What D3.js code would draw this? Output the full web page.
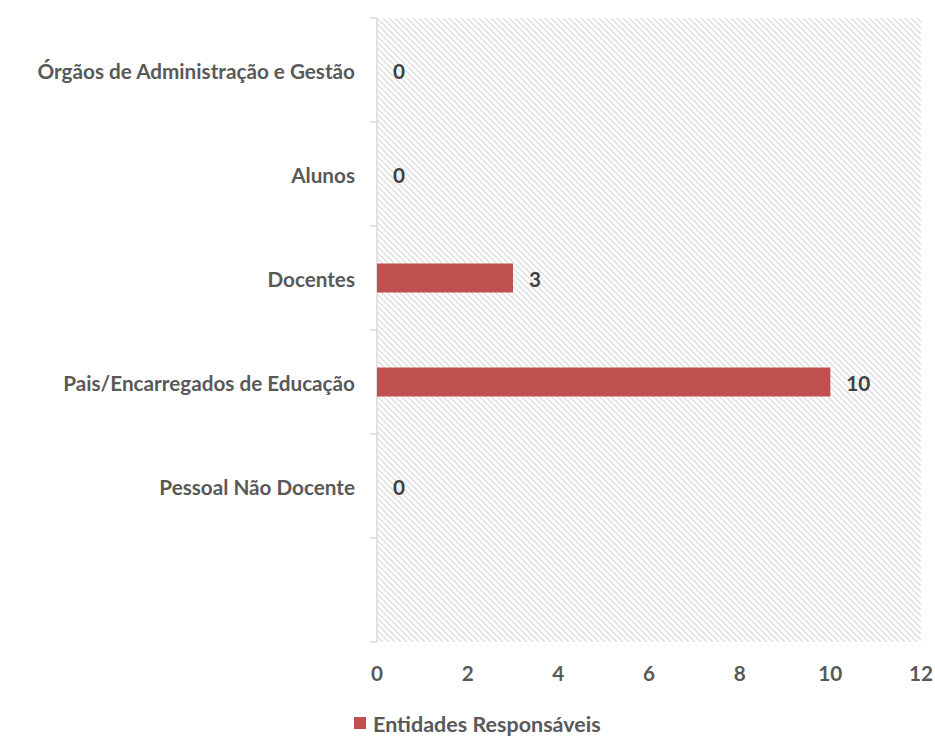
<!DOCTYPE html>
<html>
<head>
<meta charset="utf-8">
<script src="https://cdn.jsdelivr.net/npm/d3@7"></script>
<style>
  body { margin: 0; background: #fff; }
  svg { display: block; font-family: Lato, "Open Sans", sans-serif; font-weight: 700; }
</style>
</head>
<body>
<svg id="chart" width="935" height="737"></svg>
<script>
// Categories from top to bottom; the last band is left empty
const categories = [
  "Órgãos de Administração e Gestão",
  "Alunos",
  "Docentes",
  "Pais/Encarregados de Educação",
  "Pessoal Não Docente",
  ""
];
const values = [0, 0, 3, 10, 0, null];
const xTicks = [0, 2, 4, 6, 8, 10, 12];
const seriesName = "Entidades Responsáveis";

const svg = d3.select("#chart");
const margin = { left: 377, top: 18, right: 14, bottom: 95 };
const W = 935, H = 737;
const innerW = W - margin.left - margin.right;
const innerH = H - margin.top - margin.bottom;
const fs = 20.7;

// Diagonal hatch pattern for the plot background
const defs = svg.append("defs");
const pat = defs.append("pattern")
  .attr("id", "hatch")
  .attr("patternUnits", "userSpaceOnUse")
  .attr("width", 6).attr("height", 6);
pat.append("rect").attr("width", 6).attr("height", 6).attr("fill", "#ffffff");
pat.append("path")
  .attr("d", "M-1,-1 L7,7 M-1,5 L1,7 M5,-1 L7,1")
  .attr("stroke", "#dedede")
  .attr("stroke-width", 1.4);

const g = svg.append("g").attr("transform", `translate(${margin.left},${margin.top})`);

const x = d3.scaleLinear().domain([0, 12]).range([0, innerW]);
const y = d3.scaleBand().domain(d3.range(categories.length)).range([0, innerH]).paddingInner(0).paddingOuter(0);

g.append("rect")
  .attr("x", 0).attr("y", 0)
  .attr("width", innerW).attr("height", innerH)
  .attr("fill", "url(#hatch)");

// Category axis with tick marks at band boundaries
const axisColor = "#d9d9d9";
g.append("line")
  .attr("x1", 0).attr("x2", 0).attr("y1", 0).attr("y2", innerH)
  .attr("stroke", axisColor).attr("stroke-width", 1.5);
const bounds = d3.range(categories.length + 1).map(i => i * y.step());
g.selectAll(".ytick").data(bounds).join("line")
  .attr("class", "ytick")
  .attr("x1", -7).attr("x2", 0)
  .attr("y1", d => d).attr("y2", d => d)
  .attr("stroke", axisColor).attr("stroke-width", 1.5);

g.selectAll(".ylabel").data(categories).join("text")
  .attr("class", "ylabel")
  .attr("x", -22)
  .attr("y", (d, i) => y(i) + y.bandwidth() / 2)
  .attr("dy", "0.45em")
  .attr("text-anchor", "end")
  .attr("fill", "#595959")
  .attr("font-size", fs)
  .text(d => d);

// Value axis labels
g.selectAll(".xlabel").data(xTicks).join("text")
  .attr("class", "xlabel")
  .attr("x", d => x(d))
  .attr("y", innerH + 39)
  .attr("text-anchor", "middle")
  .attr("fill", "#595959")
  .attr("font-size", fs)
  .text(d => d);

// Bars
const barH = 29;
const rows = categories.map((c, i) => ({ c, v: values[i], i })).filter(d => d.v !== null);
g.selectAll(".bar").data(rows).join("rect")
  .attr("class", "bar")
  .attr("x", x(0))
  .attr("y", d => y(d.i) + y.bandwidth() / 2 - barH / 2)
  .attr("width", d => x(d.v) - x(0))
  .attr("height", barH)
  .attr("fill", "#c0504d");

// Data labels
g.selectAll(".vlabel").data(rows).join("text")
  .attr("class", "vlabel")
  .attr("x", d => x(d.v) + 16)
  .attr("y", d => y(d.i) + y.bandwidth() / 2)
  .attr("dy", "0.45em")
  .attr("fill", "#404040")
  .attr("font-size", fs)
  .text(d => d.v);

// Legend
const legend = svg.append("g").attr("transform", "translate(354,717)");
legend.append("rect").attr("width", 12).attr("height", 12).attr("fill", "#c0504d");
legend.append("text")
  .attr("x", 19).attr("y", 6).attr("dy", "0.4em")
  .attr("fill", "#595959").attr("font-size", 21.5)
  .text(seriesName);
</script>
</body>
</html>
